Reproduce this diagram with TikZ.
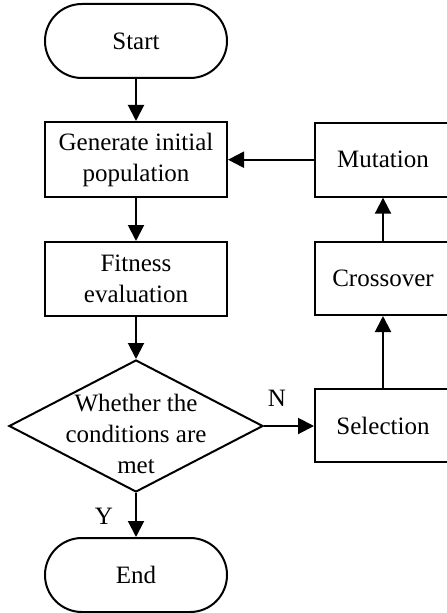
\documentclass[tikz,border=0pt]{standalone}
\usepackage{fontspec}
\setmainfont{Liberation Serif}
\usetikzlibrary{arrows.meta,shapes.geometric}
\begin{document}
\begin{tikzpicture}[x=1bp,y=-1bp,
  every node/.style={font=\fontsize{25bp}{31bp}\selectfont, align=center, inner sep=0pt},
  box/.style={draw, line width=2bp, minimum height=75bp},
  term/.style={draw, line width=2bp, minimum width=182bp, minimum height=74bp, rounded corners=36.9bp},
  decision/.style={draw, diamond, line width=2bp, minimum width=254bp, minimum height=132bp},
  conn/.style={line width=2bp, -{Triangle[length=16bp,width=16bp]}}]
\useasboundingbox (0,0) rectangle (447,613);
\clip (0,0) rectangle (447,613);
\node[term] (start) at (136,41) {Start};
\node[box, minimum width=182bp] (gen) at (136,159.5) {Generate initial\\population};
\node[box, minimum width=182bp, minimum height=74bp] (fit) at (136,279) {Fitness\\evaluation};
\node[decision] (dec) at (136,426) {};
\node (dectext) at (136,434) {Whether the\\conditions are\\met};
\node[term] (end) at (136,575) {End};
\node[box, minimum width=136bp, minimum height=74bp] (mut) at (383,159.7) {Mutation};
\node[box, minimum width=136bp, minimum height=73bp] (cross) at (383,278.5) {Crossover};
\node[box, minimum width=136bp, minimum height=73bp] (sel) at (383,425.5) {Selection};
\node (ylab) at (104,516) {Y};
\node (nlab) at (277,398) {N};
\draw[conn] (start) -- (gen);
\draw[conn] (gen) -- (fit);
\draw[conn] (fit) -- (dec.north);
\draw[conn] (dec.south) -- (end);
\draw[conn] (dec.east) -- (dec.east -| sel.west);
\draw[conn] (sel) -- (cross);
\draw[conn] (cross) -- (mut);
\draw[conn] (mut.west) -- (mut.west -| gen.east);
\end{tikzpicture}
\end{document}
